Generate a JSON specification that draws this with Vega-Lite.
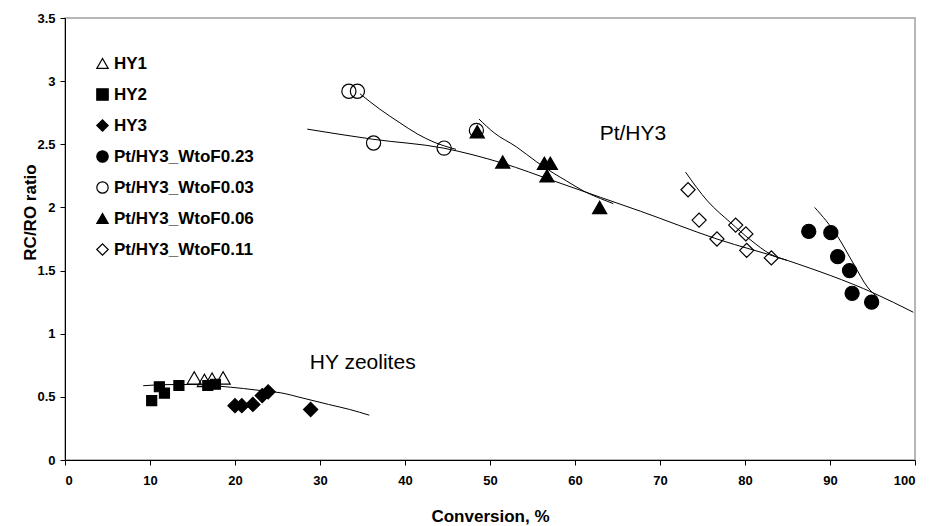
{
  "$schema": "https://vega.github.io/schema/vega-lite/v6.json",
  "width": 850,
  "height": 442,
  "autosize": "none",
  "padding": {"left": 65, "top": 18, "right": 14, "bottom": 66},
  "background": "white",
  "config": {
    "font": "Liberation Sans",
    "view": {"stroke": "#a0a0a0", "strokeWidth": 1.5},
    "axis": {
      "grid": false,
      "domainColor": "black",
      "tickColor": "black",
      "tickSize": 5,
      "labelFont": "Liberation Sans",
      "labelFontWeight": "bold",
      "labelFontSize": 13,
      "labelColor": "black",
      "titleFont": "Liberation Sans",
      "titleFontWeight": "bold",
      "titleFontSize": 17,
      "titleColor": "black"
    },
    "legend": {
      "labelFont": "Liberation Sans",
      "labelFontWeight": "bold",
      "labelFontSize": 17,
      "labelColor": "black"
    }
  },
  "datasets": {
    "pts": [
      {"series": "HY1", "conv": 15.2, "ratio": 0.65},
      {"series": "HY1", "conv": 16.4, "ratio": 0.63},
      {"series": "HY1", "conv": 17.3, "ratio": 0.64},
      {"series": "HY1", "conv": 18.6, "ratio": 0.65},
      {"series": "HY2", "conv": 10.2, "ratio": 0.47},
      {"series": "HY2", "conv": 11.1, "ratio": 0.58},
      {"series": "HY2", "conv": 11.7, "ratio": 0.53},
      {"series": "HY2", "conv": 13.4, "ratio": 0.59},
      {"series": "HY2", "conv": 16.8, "ratio": 0.59},
      {"series": "HY2", "conv": 17.7, "ratio": 0.60},
      {"series": "HY3", "conv": 20.0, "ratio": 0.43},
      {"series": "HY3", "conv": 20.8, "ratio": 0.43},
      {"series": "HY3", "conv": 22.1, "ratio": 0.44},
      {"series": "HY3", "conv": 23.2, "ratio": 0.51},
      {"series": "HY3", "conv": 23.9, "ratio": 0.54},
      {"series": "HY3", "conv": 28.9, "ratio": 0.40},
      {"series": "Pt/HY3_WtoF0.23", "conv": 87.5, "ratio": 1.81},
      {"series": "Pt/HY3_WtoF0.23", "conv": 90.1, "ratio": 1.80},
      {"series": "Pt/HY3_WtoF0.23", "conv": 90.9, "ratio": 1.61},
      {"series": "Pt/HY3_WtoF0.23", "conv": 92.3, "ratio": 1.50},
      {"series": "Pt/HY3_WtoF0.23", "conv": 92.6, "ratio": 1.32},
      {"series": "Pt/HY3_WtoF0.23", "conv": 94.9, "ratio": 1.25},
      {"series": "Pt/HY3_WtoF0.03", "conv": 33.4, "ratio": 2.92},
      {"series": "Pt/HY3_WtoF0.03", "conv": 34.4, "ratio": 2.92},
      {"series": "Pt/HY3_WtoF0.03", "conv": 36.3, "ratio": 2.51},
      {"series": "Pt/HY3_WtoF0.03", "conv": 44.6, "ratio": 2.47},
      {"series": "Pt/HY3_WtoF0.03", "conv": 48.4, "ratio": 2.61},
      {"series": "Pt/HY3_WtoF0.06", "conv": 48.5, "ratio": 2.60},
      {"series": "Pt/HY3_WtoF0.06", "conv": 51.5, "ratio": 2.36},
      {"series": "Pt/HY3_WtoF0.06", "conv": 56.4, "ratio": 2.35},
      {"series": "Pt/HY3_WtoF0.06", "conv": 57.1, "ratio": 2.35},
      {"series": "Pt/HY3_WtoF0.06", "conv": 56.7, "ratio": 2.25},
      {"series": "Pt/HY3_WtoF0.06", "conv": 62.9, "ratio": 2.00},
      {"series": "Pt/HY3_WtoF0.11", "conv": 73.3, "ratio": 2.14},
      {"series": "Pt/HY3_WtoF0.11", "conv": 74.6, "ratio": 1.90},
      {"series": "Pt/HY3_WtoF0.11", "conv": 76.7, "ratio": 1.75},
      {"series": "Pt/HY3_WtoF0.11", "conv": 78.9, "ratio": 1.86},
      {"series": "Pt/HY3_WtoF0.11", "conv": 80.1, "ratio": 1.79},
      {"series": "Pt/HY3_WtoF0.11", "conv": 80.2, "ratio": 1.66},
      {"series": "Pt/HY3_WtoF0.11", "conv": 83.1, "ratio": 1.60}
    ],
    "curves": [
      {"curve": "hy", "conv": 9.2, "ratio": 0.588},
      {"curve": "hy", "conv": 12, "ratio": 0.597},
      {"curve": "hy", "conv": 15, "ratio": 0.598},
      {"curve": "hy", "conv": 18, "ratio": 0.585},
      {"curve": "hy", "conv": 21, "ratio": 0.566},
      {"curve": "hy", "conv": 23, "ratio": 0.55},
      {"curve": "hy", "conv": 25.3, "ratio": 0.533},
      {"curve": "hy", "conv": 28, "ratio": 0.49},
      {"curve": "hy", "conv": 31, "ratio": 0.44},
      {"curve": "hy", "conv": 33.5, "ratio": 0.40},
      {"curve": "hy", "conv": 35.8, "ratio": 0.355},
      {"curve": "main", "conv": 28.5, "ratio": 2.62},
      {"curve": "main", "conv": 36.2, "ratio": 2.54},
      {"curve": "main", "conv": 44.5, "ratio": 2.47},
      {"curve": "main", "conv": 51.5, "ratio": 2.35},
      {"curve": "main", "conv": 57.5, "ratio": 2.21},
      {"curve": "main", "conv": 63, "ratio": 2.08},
      {"curve": "main", "conv": 67.7, "ratio": 1.97},
      {"curve": "main", "conv": 76.7, "ratio": 1.75},
      {"curve": "main", "conv": 85, "ratio": 1.58},
      {"curve": "main", "conv": 95.2, "ratio": 1.32},
      {"curve": "main", "conv": 99.8, "ratio": 1.17},
      {"curve": "c03", "conv": 34.7, "ratio": 2.90},
      {"curve": "c03", "conv": 37, "ratio": 2.78},
      {"curve": "c03", "conv": 39.4, "ratio": 2.67},
      {"curve": "c03", "conv": 41.5, "ratio": 2.58},
      {"curve": "c03", "conv": 43.3, "ratio": 2.52},
      {"curve": "c03", "conv": 46, "ratio": 2.46},
      {"curve": "c06", "conv": 48.7, "ratio": 2.70},
      {"curve": "c06", "conv": 50.5, "ratio": 2.59},
      {"curve": "c06", "conv": 53.1, "ratio": 2.48},
      {"curve": "c06", "conv": 55.5, "ratio": 2.36},
      {"curve": "c06", "conv": 57.5, "ratio": 2.27},
      {"curve": "c06", "conv": 59, "ratio": 2.21},
      {"curve": "c06", "conv": 61, "ratio": 2.13},
      {"curve": "c06", "conv": 63, "ratio": 2.07},
      {"curve": "c06", "conv": 64.5, "ratio": 2.03},
      {"curve": "c11", "conv": 73.0, "ratio": 2.28},
      {"curve": "c11", "conv": 75.6, "ratio": 2.05},
      {"curve": "c11", "conv": 78.3, "ratio": 1.88},
      {"curve": "c11", "conv": 80.7, "ratio": 1.74},
      {"curve": "c11", "conv": 83.0, "ratio": 1.63},
      {"curve": "c11", "conv": 85.0, "ratio": 1.58},
      {"curve": "c23", "conv": 88.2, "ratio": 2.0},
      {"curve": "c23", "conv": 90.9, "ratio": 1.77},
      {"curve": "c23", "conv": 92.8, "ratio": 1.55},
      {"curve": "c23", "conv": 94.4, "ratio": 1.37},
      {"curve": "c23", "conv": 95.6, "ratio": 1.29}
    ],
    "notes": [
      {"label": "Pt/HY3", "conv": 62.9, "ratio": 2.58},
      {"label": "HY zeolites", "conv": 28.8, "ratio": 0.77}
    ]
  },
  "encoding": {
    "x": {
      "field": "conv", "type": "quantitative",
      "scale": {"domain": [0, 100], "nice": false},
      "axis": {"values": [0,10,20,30,40,50,60,70,80,90,100], "title": "Conversion, %", "labelPadding": 9, "titlePadding": 21}
    },
    "y": {
      "field": "ratio", "type": "quantitative",
      "scale": {"domain": [0, 3.5], "nice": false},
      "axis": {"values": [0,0.5,1,1.5,2,2.5,3,3.5], "format": "~g", "title": "RC/RO ratio", "labelPadding": 5, "titleX": -26, "titleY": 194}
    }
  },
  "layer": [
    {
      "data": {"name": "curves"},
      "mark": {"type": "line", "color": "black", "strokeWidth": 1, "interpolate": "monotone"},
      "encoding": {"detail": {"field": "curve"}}
    },
    {
      "data": {"name": "pts"},
      "mark": {"type": "point", "filled": true, "strokeWidth": 1.2, "opacity": 1},
      "encoding": {
        "shape": {
          "field": "series", "type": "nominal",
          "scale": {
            "domain": ["HY1", "HY2", "HY3", "Pt/HY3_WtoF0.23", "Pt/HY3_WtoF0.03", "Pt/HY3_WtoF0.06", "Pt/HY3_WtoF0.11"],
            "range": ["triangle-up", "square", "diamond", "circle", "circle", "triangle-up", "diamond"]
          },
          "legend": {
            "title": null, "orient": "none", "legendX": 29, "legendY": 37, "padding": 0,
            "rowPadding": 13, "symbolSize": 130, "symbolStrokeWidth": 1.2,
            "labelOffset": 3
          }
        },
        "fill": {
          "field": "series", "type": "nominal",
          "scale": {
            "domain": ["HY1", "HY2", "HY3", "Pt/HY3_WtoF0.23", "Pt/HY3_WtoF0.03", "Pt/HY3_WtoF0.06", "Pt/HY3_WtoF0.11"],
            "range": ["transparent", "black", "black", "black", "transparent", "black", "transparent"]
          },
          "legend": {
            "title": null, "orient": "none", "legendX": 29, "legendY": 37, "padding": 0,
            "rowPadding": 13, "symbolSize": 130, "symbolStrokeWidth": 1.2,
            "labelOffset": 3
          }
        },
        "stroke": {
          "field": "series", "type": "nominal",
          "scale": {
            "domain": ["HY1", "HY2", "HY3", "Pt/HY3_WtoF0.23", "Pt/HY3_WtoF0.03", "Pt/HY3_WtoF0.06", "Pt/HY3_WtoF0.11"],
            "range": ["black", "black", "black", "black", "black", "black", "black"]
          },
          "legend": {
            "title": null, "orient": "none", "legendX": 29, "legendY": 37, "padding": 0,
            "rowPadding": 13, "symbolSize": 130, "symbolStrokeWidth": 1.2,
            "labelOffset": 3
          }
        },
        "size": {"condition": {"test": "datum.series === 'HY2'", "value": 100}, "value": 200}
      }
    },
    {
      "data": {"name": "notes"},
      "mark": {"type": "text", "align": "left", "baseline": "middle", "fontSize": 21, "font": "Liberation Sans", "color": "black"},
      "encoding": {"text": {"field": "label"}}
    },
    {
      "mark": {"type": "rule", "color": "black", "strokeWidth": 1.5},
      "encoding": {"y": {"datum": 3.5}, "x": {"datum": 0}, "x2": {"datum": 100}}
    }
  ]
}
